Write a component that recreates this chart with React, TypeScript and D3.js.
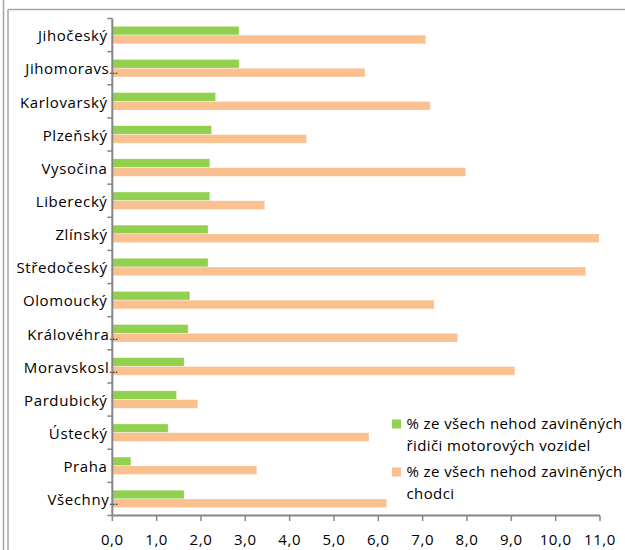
import React from "react";
import * as d3 from "d3";

const categories = [
  "Jihočeský",
  "Jihomoravský",
  "Karlovarský",
  "Plzeňský",
  "Vysočina",
  "Liberecký",
  "Zlínský",
  "Středočeský",
  "Olomoucký",
  "Královéhradecký",
  "Moravskoslezský",
  "Pardubický",
  "Ústecký",
  "Praha",
  "Všechny kraje",
];
const shownLabels = [
  "Jihočeský",
  "Jihomoravs",
  "Karlovarský",
  "Plzeňský",
  "Vysočina",
  "Liberecký",
  "Zlínský",
  "Středočeský",
  "Olomoucký",
  "Královéhra",
  "Moravskosl",
  "Pardubický",
  "Ústecký",
  "Praha",
  "Všechny",
];
const truncated = [false, true, false, false, false, false, false, false, false, true, true, false, false, false, true];
const driversPct = [2.86, 2.86, 2.33, 2.24, 2.2, 2.2, 2.16, 2.16, 1.75, 1.71, 1.62, 1.45, 1.26, 0.42, 1.62];
const pedestriansPct = [7.07, 5.7, 7.17, 4.38, 7.97, 3.44, 10.98, 10.68, 7.26, 7.79, 9.08, 1.93, 5.79, 3.26, 6.19];
const xTicks = [0, 1, 2, 3, 4, 5, 6, 7, 8, 9, 10, 11];
const seriesNames = [
  ["% ze všech nehod zaviněných", "řidiči motorových vozidel"],
  ["% ze všech nehod zaviněných", "chodci"],
];
const seriesColors = ["#92D050", "#FAC090"];

const FONT = "'Open Sans', Lato, sans-serif";

export default function App() {
  const W = 625;
  const H = 550;
  const x = d3.scaleLinear().domain([0, 11]).range([112.3, 600]);
  const y = d3.scaleBand<string>().domain(categories).range([18.5, 515.5]).paddingInner(0).paddingOuter(0);
  const bw = y.bandwidth();
  const sub = d3.scaleBand<number>().domain([0, 1]).range([bw * 0.235, bw * 0.765]).padding(0);
  const series = [driversPct, pedestriansPct];
  const axisColor = "#868686";
  const fmt = (v: number) => d3.format(".1f")(v).replace(".", ",");
  const fs = 15;
  const ls = 0.6;

  return (
    <svg
      width={W}
      height={H}
      style={{ position: "absolute", left: 0, top: 0, background: "#fff" }}
      fontFamily={FONT}
    >
      {/* frame */}
      <line x1={3.5} x2={3.5} y1={0} y2={H} stroke="#a6a6a6" strokeWidth={1.5} />
      <line x1={8} x2={8} y1={9.5} y2={H} stroke="#a6a6a6" strokeWidth={1.5} />
      <line x1={8} x2={W} y1={9.5} y2={9.5} stroke="#a6a6a6" strokeWidth={1.5} />

      {/* bars */}
      {categories.map((c, i) => (
        <g key={c} transform={`translate(0,${y(c)})`}>
          {series.map((s, k) => (
            <rect
              key={k}
              x={x(0)}
              y={sub(k)}
              width={x(s[i]) - x(0)}
              height={sub.bandwidth()}
              fill={seriesColors[k]}
              stroke="#ffffff"
              strokeOpacity={0.6}
              strokeWidth={0.6}
            />
          ))}
        </g>
      ))}

      {/* y axis */}
      <line x1={x(0)} x2={x(0)} y1={18.5} y2={515.5} stroke={axisColor} strokeWidth={2} />
      {d3.range(categories.length + 1).map((i) => {
        const yy = 18.5 + i * bw;
        return <line key={i} x1={x(0) - 5} x2={x(0)} y1={yy} y2={yy} stroke={axisColor} strokeWidth={1.5} />;
      })}
      {categories.map((c, i) => {
        const cy = (y(c) as number) + bw / 2 + 1;
        return truncated[i] ? (
          <text key={c} x={118} y={cy} dy="0.35em" textAnchor="end" fontSize={fs} letterSpacing={ls} fill="#000">
            {shownLabels[i]}
            <tspan fontSize={11} letterSpacing={0}>...</tspan>
          </text>
        ) : (
          <text key={c} x={107.5} y={cy} dy="0.35em" textAnchor="end" fontSize={fs} letterSpacing={ls} fill="#000">
            {shownLabels[i]}
          </text>
        );
      })}

      {/* x axis */}
      <line x1={x(0)} x2={x(11)} y1={515.5} y2={515.5} stroke={axisColor} strokeWidth={2} />
      {xTicks.map((t) => (
        <g key={t}>
          <line x1={x(t)} x2={x(t)} y1={515.5} y2={521} stroke={axisColor} strokeWidth={1.5} />
          <text x={x(t)} y={540} dy="0.35em" textAnchor="middle" fontSize={fs} letterSpacing={ls} fill="#000">
            {fmt(t)}
          </text>
        </g>
      ))}

      {/* legend */}
      {seriesNames.map((lines, k) => {
        const top = k === 0 ? 424 : 472;
        return (
          <g key={k}>
            <rect x={392} y={top - 4.5} width={9} height={9} fill={seriesColors[k]} />
            {lines.map((ln, j) => (
              <text key={j} x={406.5} y={top + j * 21.5} dy="0.35em" fontSize={fs} letterSpacing={0.4} fill="#000">
                {ln}
              </text>
            ))}
          </g>
        );
      })}
    </svg>
  );
}
